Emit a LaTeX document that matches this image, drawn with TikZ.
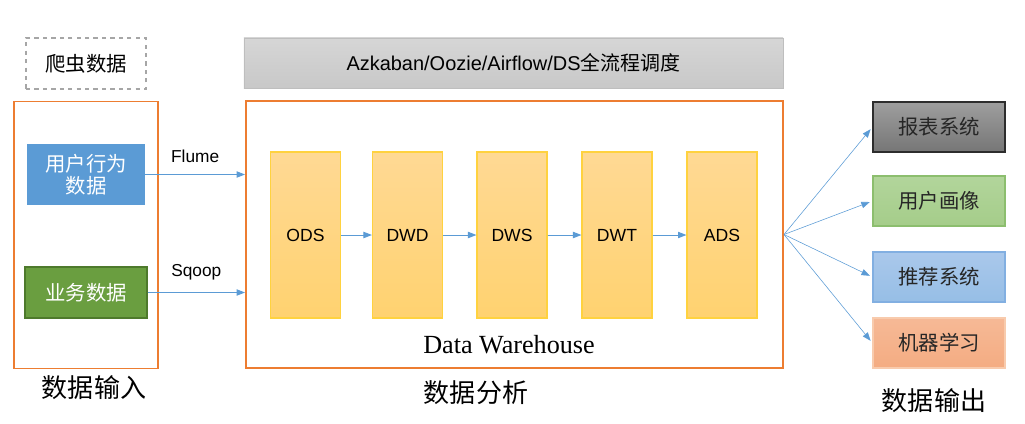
\documentclass[tikz,border=0pt]{standalone}
\usepackage{fontspec}
\setmainfont{Liberation Sans}
\newfontfamily\cjk{Noto Sans CJK SC}
\newfontfamily\whfont{Liberation Serif}
\usetikzlibrary{arrows.meta,positioning}
\definecolor{frameorange}{HTML}{ED7D31}
\definecolor{flowblue}{HTML}{5B9BD5}
\definecolor{bizgreen}{HTML}{6A9E40}
\definecolor{layerline}{HTML}{FFD23F}

\begin{document}
\begin{tikzpicture}[x=0.025cm, y=-0.025cm,
    frame/.style={draw=frameorange, line width=1.3pt, fill=white},
    srcbox/.style={text=white, font=\cjk\fontsize{14.5}{18}\selectfont, align=center},
    layer/.style={draw=layerline, line width=0.8pt, top color={rgb,255:red,255;green,217;blue,148},
                  bottom color={rgb,255:red,255;green,210;blue,112}, minimum width=1.75cm,
                  minimum height=4.15cm, font=\fontsize{12.5}{15}\selectfont},
    outbox/.style={minimum width=3.3cm, minimum height=1.25cm, line width=0.8pt,
                   font=\cjk\fontsize{14.5}{18}\selectfont, text={rgb,255:red,38;green,38;blue,38}},
    biglabel/.style={font=\cjk\fontsize{18.5}{22}\selectfont},
    flow/.style={draw=flowblue, line width=0.6pt, -{Triangle[length=6pt,width=4.5pt]}},
    tool/.style={font=\fontsize{12.3}{15}\selectfont}
]
\useasboundingbox (0,0) rectangle (1025,423);

\node[draw={rgb,255:red,166;green,166;blue,166}, dashed, line width=0.9pt, minimum width=3cm,
      minimum height=1.275cm, font=\cjk\fontsize{14.5}{18}\selectfont] (crawl) at (86,63.5) {爬虫数据};
\node[frame, minimum width=3.6cm, minimum height=6.675cm] (input) at (86,235) {};
\node[srcbox, fill=flowblue, minimum width=2.95cm, minimum height=1.525cm] (behav) at (86,174.5)
    {用户行为\\[-2pt]数据};
\node[srcbox, fill=bizgreen, draw={rgb,255:red,78;green,122;blue,44}, line width=0.9pt,
      minimum width=3.05cm, minimum height=1.275cm] (biz) at (86,292.5) {业务数据};
\node[biglabel] (inlabel) at (94,388) {数据输入};

\node[draw={rgb,255:red,190;green,190;blue,190}, line width=0.6pt,
      top color={rgb,255:red,214;green,214;blue,214}, bottom color={rgb,255:red,200;green,200;blue,200},
      minimum width=13.475cm, minimum height=1.25cm, font=\fontsize{14.2}{17}\selectfont] (sched) at (513.5,63)
    {Azkaban/Oozie/Airflow/DS{\cjk 全流程调度}};
\node[frame, minimum width=13.425cm, minimum height=6.675cm] (dw) at (514.5,234.5) {};

\node[layer] (ods) at (305.5,235) {ODS};
\node[layer] (dwd) at (407.5,235) {DWD};
\node[layer] (dws) at (512,235) {DWS};
\node[layer] (dwt) at (617,235) {DWT};
\node[layer] (ads) at (722,235) {ADS};
\node[font=\whfont\fontsize{18.6}{22}\selectfont] (dwlabel) at (509,345) {Data Warehouse};
\node[biglabel] (analabel) at (476,393) {数据分析};

\draw[flow] (ods.east) -- (dwd.west);
\draw[flow] (dwd.east) -- (dws.west);
\draw[flow] (dws.east) -- (dwt.west);
\draw[flow] (dwt.east) -- (ads.west);

\draw[flow] (behav.east) -- (behav.east -| dw.west) node[tool, midway, above=5pt] (flume) {Flume};
\draw[flow] (biz.east) -- (biz.east -| dw.west) node[tool, midway, above=5pt] (sqoop) {Sqoop};

\node[outbox, draw={rgb,255:red,45;green,45;blue,45}, top color={rgb,255:red,158;green,158;blue,158},
      bottom color={rgb,255:red,118;green,118;blue,118}] (report) at (939,127) {报表系统};
\node[outbox, draw={rgb,255:red,140;green,190;blue,110}, top color={rgb,255:red,178;green,213;blue,155},
      bottom color={rgb,255:red,165;green,205;blue,138}] (profile) at (939,201) {用户画像};
\node[outbox, draw={rgb,255:red,130;green,175;blue,225}, top color={rgb,255:red,170;green,200;blue,235},
      bottom color={rgb,255:red,150;green,190;blue,230}] (recom) at (939,277) {推荐系统};
\node[outbox, draw={rgb,255:red,248;green,203;blue,173}, top color={rgb,255:red,246;green,185;blue,150},
      bottom color={rgb,255:red,244;green,172;blue,130}] (learn) at (939,343) {机器学习};
\node[biglabel] (outlabel) at (934,401) {数据输出};

\foreach \target in {report,profile,recom,learn}
    \draw[flow, line width=0.4pt, shorten >=2pt] (dw.east) -- (\target.west);
\end{tikzpicture}
\end{document}
